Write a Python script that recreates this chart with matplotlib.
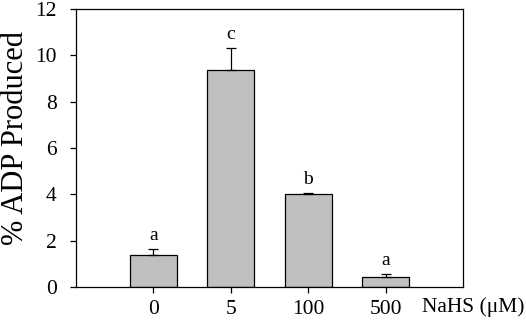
import numpy as np
import matplotlib
matplotlib.use("Agg")
import matplotlib.pyplot as plt

# data
doses = ["0", "5", "100", "500"]
adp = [1.38, 9.38, 4.01, 0.42]
sem = [0.25, 0.92, 0.06, 0.15]
letters = ["a", "c", "b", "a"]

plt.rcParams["font.family"] = ["Liberation Serif", "DejaVu Serif"]

fig = plt.figure(figsize=(5.26, 3.26), dpi=100)
ax = fig.add_axes([0.1445, 0.1196, 0.7357, 0.8524])

x = np.arange(1, len(doses) + 1)
ax.bar(x, adp, width=0.61, color="#c0c0c0", edgecolor="black", linewidth=0.9,
	yerr=[np.zeros(len(sem)), sem], error_kw=dict(ecolor="black", elinewidth=0.9,
	capsize=3.5, capthick=0.9), zorder=2)

for xi, v, e, l in zip(x, adp, sem, letters):
	ax.text(xi, v + e + 0.22, l, ha="center", va="bottom", fontsize=14)

ax.set_xlim(0, 5)
ax.set_ylim(0, 12)
ax.set_xticks(x)
ax.set_xticklabels(doses)
ax.set_yticks(range(0, 13, 2))
ax.tick_params(axis="both", direction="out", length=4, width=0.9, labelsize=15.5,
	top=False, right=False)
ax.tick_params(axis="x", pad=5)
ax.tick_params(axis="y", pad=10)
for s in ax.spines.values():
	s.set_linewidth(0.9)

ax.set_ylabel("% ADP Produced", fontsize=22)
ax.yaxis.set_label_coords(-0.118, 0.535)
fig.text(0.997, 0.058, "NaHS (\u03bcM)", ha="right", va="center", fontsize=15.5)

fig.savefig("out.png", dpi=100)
